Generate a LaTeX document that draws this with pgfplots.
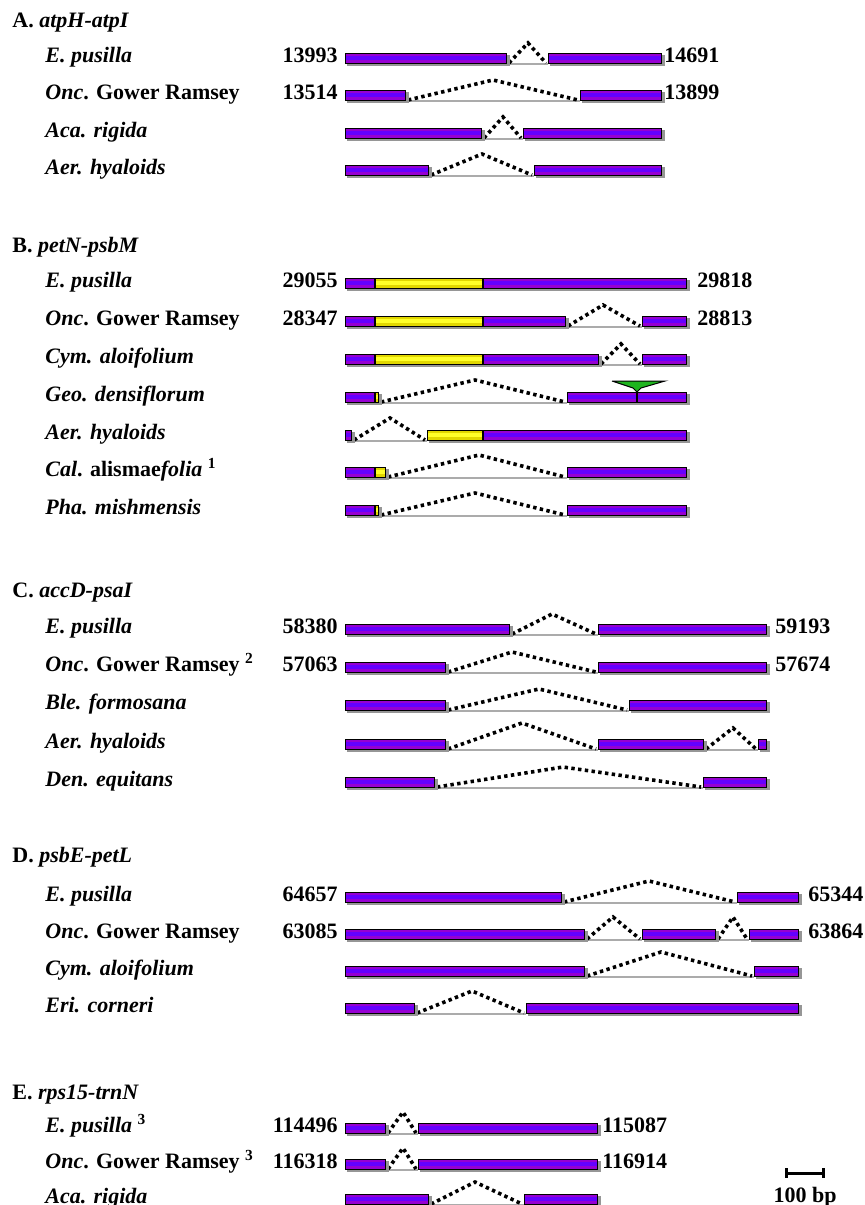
\documentclass[border=0pt]{standalone}
\usepackage{pgfplots}
\pgfplotsset{compat=1.18}
\usepackage{fontspec}
\setmainfont{Liberation Serif}
\definecolor{barmag}{RGB}{150,0,210}
\definecolor{barblue}{RGB}{100,0,255}
\definecolor{yelo}{RGB}{225,215,0}
\definecolor{yeli}{RGB}{255,255,40}
\definecolor{shadowc}{RGB}{150,150,150}
\definecolor{trigreen}{RGB}{30,180,30}

% gene segment: x1 x2 y outer inner
\newcommand\seg[5]{%
 \pgfmathsetmacro\sA{#1+2}\pgfmathsetmacro\sB{#2+2.5}\pgfmathsetmacro\sY{#3+2.5}%
 \pgfmathsetmacro\iA{#1+1}\pgfmathsetmacro\iB{#2-1}%
 \edef\doseg{%
  \noexpand\addplot[shadowc,line width=5.5pt] coordinates {(\sA,\sY) (\sB,\sY)};
  \noexpand\addplot[black,line width=5.5pt] coordinates {(#1,#3) (#2,#3)};
  \noexpand\addplot[#4,line width=4.5pt] coordinates {(\iA,#3) (\iB,#3)};
  \noexpand\addplot[#5,line width=2pt] coordinates {(\iA,#3) (\iB,#3)};
 }\doseg}
\newcommand\pseg[3]{\seg{#1}{#2}{#3}{barmag}{barblue}}
\newcommand\yseg[3]{\seg{#1}{#2}{#3}{yelo}{yeli}}
% intron: xa xpeak xb y height
\newcommand\intron[5]{%
 \pgfmathsetmacro\nY{#4+5}\pgfmathsetmacro\gY{#4+6}\pgfmathsetmacro\pY{#4-#5}%
 \pgfmathsetmacro\nA{#1+2}\pgfmathsetmacro\nB{#3-2}%
 \edef\doint{%
  \noexpand\addplot[shadowc!80,line width=1pt] coordinates {(#1,\gY) (#3,\gY)};
  \noexpand\addplot[black,line width=1.8pt,dash pattern=on 1.7pt off 1.7pt] coordinates {(\nA,\nY) (#2,\pY) (\nB,\nY)};
 }\doint}
\newcommand\rlab[2]{\node[anchor=base west,inner sep=0pt,yshift=-2pt] at (axis cs:45,#1) {#2};}
\newcommand\ttl[2]{\node[anchor=base west,inner sep=0pt,yshift=-3.5pt] at (axis cs:12,#1) {#2};}
\newcommand\lnum[2]{\node[anchor=base east,inner sep=0pt,yshift=-2pt] at (axis cs:338,#1) {#2};}
\newcommand\rnum[3]{\node[anchor=base west,inner sep=0pt,yshift=-2pt] at (axis cs:#1,#2) {#3};}

\begin{document}
\begin{tikzpicture}[font=\fontsize{11}{13}\selectfont\bfseries]
\begin{axis}[hide axis, scale only axis, width=432.5pt, height=602.5pt,
  xmin=0, xmax=865, ymin=0, ymax=1205, y dir=reverse]
\addplot[draw=none] coordinates {(0,0) (865,1205)};
% ---------------- A
\ttl{20}{A. \textit{atpH-atpI}}
\rlab{58}{\textit{E. pusilla}}
\rlab{95}{\textit{Onc}. Gower Ramsey}
\rlab{133}{\textit{Aca. rigida}}
\rlab{170}{\textit{Aer. hyaloids}}
\lnum{58}{13993}\rnum{664}{58}{14691}
\lnum{95}{13514}\rnum{664}{95}{13899}
\intron{507}{528}{548}{58}{15}
\pseg{345}{507}{58}\pseg{548}{662}{58}
\intron{406}{493}{580}{95}{15}
\pseg{345}{406}{95}\pseg{580}{662}{95}
\intron{482}{503}{523}{133}{16}
\pseg{345}{482}{133}\pseg{523}{662}{133}
\intron{429}{482}{534}{170}{16}
\pseg{345}{429}{170}\pseg{534}{662}{170}
% ---------------- B
\ttl{245}{B. \textit{petN-psbM}}
\rlab{283}{\textit{E. pusilla}}
\rlab{321}{\textit{Onc}. Gower Ramsey}
\rlab{359}{\textit{Cym. aloifolium}}
\rlab{397}{\textit{Geo. densiflorum}}
\rlab{435}{\textit{Aer. hyaloids}}
\rlab{472}{\textit{Cal}. alismae\textit{folia} \textsuperscript{1}}
\rlab{510}{\textit{Pha. mishmensis}}
\lnum{283}{29055}\rnum{697}{283}{29818}
\lnum{321}{28347}\rnum{697}{321}{28813}
\pseg{345}{375}{283}\yseg{375}{483}{283}\pseg{483}{687}{283}
\intron{566}{603}{642}{321}{16}
\pseg{345}{375}{321}\yseg{375}{483}{321}\pseg{483}{566}{321}\pseg{642}{687}{321}
\intron{599}{621}{642}{359}{15}
\pseg{345}{375}{359}\yseg{375}{483}{359}\pseg{483}{599}{359}\pseg{642}{687}{359}
\intron{379}{475}{567}{397}{17}
\pseg{345}{375}{397}\yseg{375}{379}{397}\pseg{567}{687}{397}
\addplot[fill=trigreen, draw=black, line width=0.5pt] coordinates {(612,381) (665,381) (641,388) (637,392) (633,388) (612,381)};
\addplot[black, line width=1.2pt] coordinates {(637,391) (637,402.5)};
\intron{352}{390}{427}{435}{17}
\pseg{345}{352}{435}\yseg{427}{483}{435}\pseg{483}{687}{435}
\intron{386}{479}{567}{472}{17}
\pseg{345}{375}{472}\yseg{375}{386}{472}\pseg{567}{687}{472}
\intron{379}{475}{567}{510}{17}
\pseg{345}{375}{510}\yseg{375}{379}{510}\pseg{567}{687}{510}
% ---------------- C
\ttl{590}{C. \textit{accD-psaI}}
\rlab{629}{\textit{E. pusilla}}
\rlab{667}{\textit{Onc}. Gower Ramsey \textsuperscript{2}}
\rlab{705}{\textit{Ble. formosana}}
\rlab{744}{\textit{Aer. hyaloids}}
\rlab{782}{\textit{Den. equitans}}
\lnum{629}{58380}\rnum{775}{629}{59193}
\lnum{667}{57063}\rnum{775}{667}{57674}
\intron{510}{552}{598}{629}{15}
\pseg{345}{510}{629}\pseg{598}{767}{629}
\intron{446}{512}{598}{667}{15}
\pseg{345}{446}{667}\pseg{598}{767}{667}
\intron{446}{539}{629}{705}{16}
\pseg{345}{446}{705}\pseg{629}{767}{705}
\intron{446}{522}{598}{744}{21}\intron{704}{733}{758}{744}{16}
\pseg{345}{446}{744}\pseg{598}{704}{744}\pseg{758}{767}{744}
\intron{435}{563}{703}{782}{15}
\pseg{345}{435}{782}\pseg{703}{767}{782}
% ---------------- D
\ttl{855}{D. \textit{psbE-petL}}
\rlab{897}{\textit{E. pusilla}}
\rlab{934}{\textit{Onc}. Gower Ramsey}
\rlab{971}{\textit{Cym. aloifolium}}
\rlab{1008}{\textit{Eri. corneri}}
\lnum{897}{64657}\rnum{808}{897}{65344}
\lnum{934}{63085}\rnum{808}{934}{63864}
\intron{562}{649}{737}{897}{16}
\pseg{345}{562}{897}\pseg{737}{799}{897}
\intron{585}{613}{642}{934}{17}\intron{716}{733}{749}{934}{17}
\pseg{345}{585}{934}\pseg{642}{716}{934}\pseg{749}{799}{934}
\intron{585}{661}{754}{971}{19}
\pseg{345}{585}{971}\pseg{754}{799}{971}
\intron{415}{472}{526}{1008}{17}
\pseg{345}{415}{1008}\pseg{526}{799}{1008}
% ---------------- E
\ttl{1092}{E. \textit{rps15-trnN}}
\rlab{1128}{\textit{E. pusilla} \textsuperscript{3}}
\rlab{1164}{\textit{Onc}. Gower Ramsey \textsuperscript{3}}
\rlab{1199}{\textit{Aca. rigida}}
\lnum{1128}{114496}\rnum{602}{1128}{115087}
\lnum{1164}{116318}\rnum{602}{1164}{116914}
\intron{386}{403}{418}{1128}{16}
\pseg{345}{386}{1128}\pseg{418}{598}{1128}
\intron{386}{403}{418}{1164}{16}
\pseg{345}{386}{1164}\pseg{418}{598}{1164}
\intron{429}{475}{524}{1199}{17}
\pseg{345}{429}{1199}\pseg{524}{598}{1199}
% scale bar
\addplot[black, line width=1.5pt] coordinates {(786,1173) (823,1173)};
\addplot[black, line width=1.5pt] coordinates {(786,1168) (786,1178)};
\addplot[black, line width=1.5pt] coordinates {(823,1168) (823,1178)};
\node[anchor=base,inner sep=0pt] at (axis cs:805,1202) {100 bp};
\end{axis}
\end{tikzpicture}
\end{document}
